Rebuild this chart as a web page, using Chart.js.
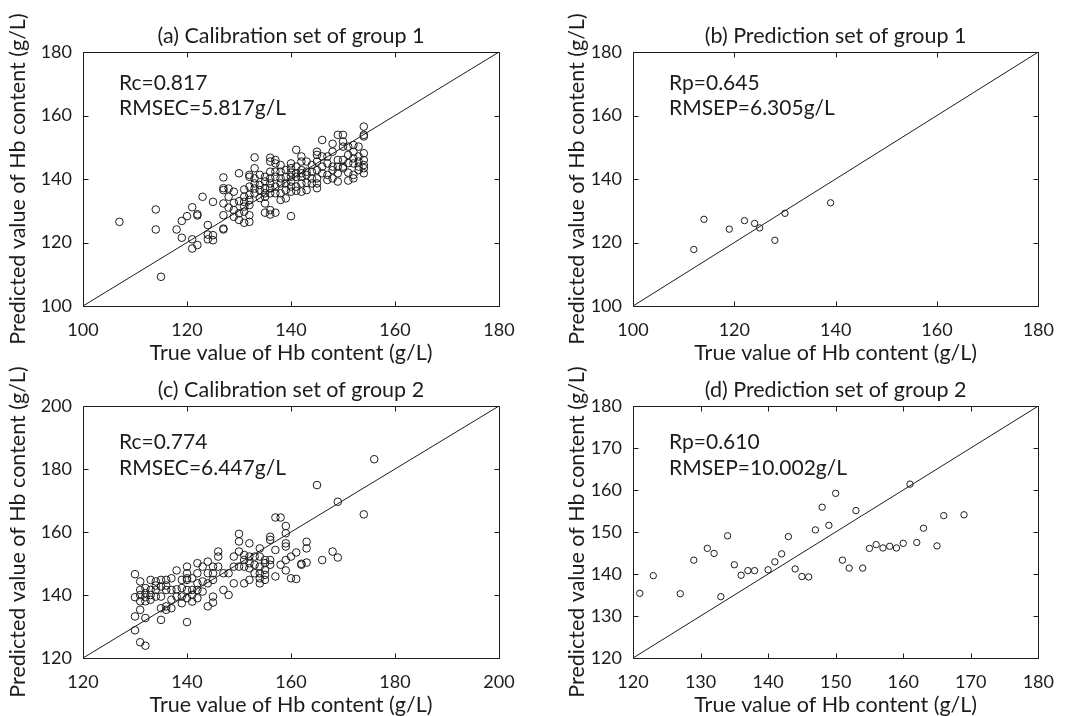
<!DOCTYPE html>
<html><head><meta charset="utf-8">
<script src="https://cdn.jsdelivr.net/npm/chart.js@4.4.1/dist/chart.umd.min.js"></script>
<style>
html,body{margin:0;padding:0;background:#fff;width:1067px;height:716px;overflow:hidden}
canvas{position:absolute}
</style></head><body>
<canvas id="ca" width="533" height="380" style="left:0;top:0"></canvas>
<canvas id="cb" width="534" height="380" style="left:533px;top:0"></canvas>
<canvas id="cc" width="533" height="358" style="left:0;top:358px"></canvas>
<canvas id="cd" width="534" height="358" style="left:533px;top:358px"></canvas>
<script>
// ---- data ----
const titles = ["(a) Calibration set of group 1","(b) Prediction set of group 1","(c) Calibration set of group 2","(d) Prediction set of group 2"];
const xTitle = "True value of Hb content (g/L)";
const yTitle = "Predicted value of Hb content (g/L)";
const notesA = ["Rc=0.817","RMSEC=5.817g/L"];
const notesB = ["Rp=0.645","RMSEP=6.305g/L"];
const notesC = ["Rc=0.774","RMSEC=6.447g/L"];
const notesD = ["Rp=0.610","RMSEP=10.002g/L"];
const limA = [100,180], limB = [100,180], limC = [120,200], limD = [120,180];
const stepA = 20, stepB = 20, stepC = 20, stepD = 10;

const calA = [
[107,126.5],[114,130.4],[114,124.1],[115,109.2],[118,124.1],[119,126.8],[119,121.5],[120,128.3],
[121,131.1],[121,121.0],[121,118.1],[122,128.9],[122,128.5],[122,119.2],[123,134.4],
[124,125.5],[124,122.5],[124,121.0],[125,132.8],[125,122.3],[125,120.7],
[127,140.5],[127,137.1],[127,136.5],[127,132.3],[127,128.6],[127,124.4],[127,124.1],
[128,134.4],[128,137.0],[128,131.0],[129,136.0],[129,132.5],[129,130.2],[129,128.1],
[130,141.8],[130,133.0],[130,129.2],[130,127.1],
[131,136.7],[131,134.4],[131,132.8],[131,131.3],[131,129.7],[131,126.2],
[132,141.3],[132,140.7],[132,137.6],[132,135.0],[132,133.4],[132,131.8],[132,128.6],[132,126.5],
[133,146.8],[133,143.4],[133,140.2],[133,138.6],[133,137.0],[133,135.5],
[134,141.3],[134,138.1],[134,136.5],[134,134.0],
[135,140.7],[135,139.2],[135,137.1],[135,135.5],[135,134.4],[135,132.3],[135,129.4],
[136,146.7],[136,145.5],[136,142.3],[136,140.2],[136,138.6],[136,137.1],[136,135.5],[136,130.2],[136,128.8],
[137,146.0],[137,144.9],[137,142.3],[137,140.7],[137,137.6],[137,135.5],[137,129.4],
[138,144.4],[138,142.3],[138,140.2],[138,138.6],[138,135.5],[138,133.4],
[139,142.8],[139,140.7],[139,138.6],[139,136.5],[139,133.9],
[140,144.9],[140,143.4],[140,142.0],[140,140.7],[140,139.2],[140,137.6],[140,136.0],[140,128.3],
[141,149.2],[141,143.9],[141,141.8],[141,140.7],[141,137.6],[141,136.3],
[142,147.1],[142,145.5],[142,142.8],[142,141.8],[142,140.7],[142,138.6],[142,136.0],
[143,145.5],[143,142.3],[143,141.3],[143,138.8],[143,136.5],
[144,144.4],[144,142.3],[144,140.2],[144,138.6],
[145,148.6],[145,147.6],[145,145.5],[145,142.8],[145,140.2],[145,138.6],[145,137.1],
[146,152.3],[146,147.1],[146,143.9],[146,141.8],
[147,147.1],[147,144.9],[147,141.3],[147,139.7],
[148,151.1],[148,148.6],[148,143.9],[148,142.8],[148,140.2],
[149,153.9],[149,146.0],[149,143.9],[149,141.8],[149,139.2],
[150,153.9],[150,151.8],[150,150.2],[150,146.0],[150,143.9],[150,143.4],
[151,150.2],[151,147.6],[151,145.0],[151,142.0],[151,139.5],
[152,150.7],[152,148.6],[152,146.5],[152,144.9],[152,141.3],[152,140.2],
[153,150.2],[153,147.1],[153,145.5],[153,143.9],[153,142.8],
[154,156.5],[154,153.9],[154,153.4],[154,148.1],[154,146.0],[154,144.4],[154,143.4],[154,141.8]
];
const preB = [[112,117.8],[114,127.3],[119,124.2],[122,126.9],[124,126.0],[125,124.6],[128,120.7],[130,129.2],[139,132.5]];
const calC = [
[130,146.6],[130,139.3],[130,133.2],[130,128.8],
[131,144.3],[131,141.6],[131,140.0],[131,135.3],[131,125.0],[131,138.0],
[132,142.2],[132,140.6],[132,139.3],[132,132.7],[132,123.9],[132,138.0],
[133,144.8],[133,141.6],[133,138.5],[133,140.0],
[134,144.3],[134,141.6],[134,139.5],[134,143.0],
[135,144.8],[135,142.7],[135,139.5],[135,135.8],[135,132.1],
[136,144.8],[136,141.6],[136,136.4],[136,135.3],[136,143.0],
[137,145.3],[137,141.6],[137,138.5],[137,135.8],
[138,147.8],[138,141.8],[138,139.5],
[139,144.8],[139,142.2],[139,139.5],[139,137.4],
[140,149.0],[140,146.9],[140,145.3],[140,144.8],[140,141.6],[140,139.0],[140,131.4],
[141,145.3],[141,141.6],[141,140.0],[141,137.9],
[142,150.1],[142,146.9],[142,143.7],[142,141.6],[142,139.0],
[143,149.0],[143,144.3],[143,141.1],
[144,150.6],[144,146.9],[144,143.7],[144,136.4],
[145,149.0],[145,146.9],[145,144.8],[145,139.5],[145,137.6],
[146,153.8],[146,152.2],[146,149.0],
[147,146.9],[147,141.6],[148,146.9],[148,140.0],
[149,152.2],[149,149.0],[149,143.7],
[150,159.4],[150,157.0],[150,153.8],[150,149.0],
[151,152.7],[151,151.1],[151,149.0],[151,143.7],
[152,156.4],[152,152.2],[152,150.1],[152,148.5],[152,144.8],
[153,152.2],[153,149.6],[153,146.9],
[154,154.8],[154,152.2],[154,149.0],[154,146.9],[154,145.3],[154,143.7],
[155,151.1],[155,150.1],[155,148.0],[155,146.4],[155,144.8],
[156,158.5],[156,157.5],[156,151.1],[156,149.6],
[157,164.6],[157,154.3],[157,145.9],[158,164.6],[158,149.6],
[159,161.9],[159,159.6],[159,156.4],[159,155.4],[159,151.1],[159,147.8],
[160,152.2],[160,145.3],[161,153.5],[161,145.1],[162,149.6],[162,149.9],
[163,156.9],[163,154.8],[163,150.3],
[165,174.9],[166,151.1],[168,153.8],[169,169.6],[169,151.9],[174,165.6],[176,183.1]
];
const preD = [
[121,135.4],[123,139.6],[127,135.3],[129,143.3],[131,146.1],[132,144.9],[133,134.6],[134,149.1],
[135,142.2],[136,139.7],[137,140.8],[138,140.8],[140,141.0],[141,142.9],[142,144.8],[143,148.9],
[144,141.2],[145,139.4],[146,139.3],[147,150.5],[148,155.9],[149,151.6],[150,159.2],[151,143.3],
[152,141.4],[153,155.1],[154,141.4],[155,146.1],[156,147.0],[157,146.2],[158,146.6],[159,146.2],
[160,147.3],[161,161.4],[162,147.5],[163,150.9],[165,146.7],[166,153.9],[169,154.1]
];

// ---- drawing ----
const INK = '#1c1c1c';
const FONT = 'Lato';
const decor = {
  id: 'decor',
  afterDraw(chart, args, o) {
    const ctx = chart.ctx, a = chart.chartArea, xs = chart.scales.x, ys = chart.scales.y;
    ctx.save();
    ctx.strokeStyle = INK; ctx.lineWidth = 1;
    const L = Math.round(a.left) + 0.5, R = Math.round(a.right) + 0.5, T = Math.round(a.top) + 0.5, B = Math.round(a.bottom) + 0.5;
    ctx.beginPath(); ctx.rect(L, T, R - L, B - T); ctx.stroke();
    const tl = 5;
    ctx.beginPath();
    xs.ticks.forEach(t => { const p = Math.round(xs.getPixelForValue(t.value)) + 0.5; ctx.moveTo(p, B); ctx.lineTo(p, B - tl); ctx.moveTo(p, T); ctx.lineTo(p, T + tl); });
    ys.ticks.forEach(t => { const p = Math.round(ys.getPixelForValue(t.value)) + 0.5; ctx.moveTo(L, p); ctx.lineTo(L + tl, p); ctx.moveTo(R, p); ctx.lineTo(R - tl, p); });
    ctx.stroke();
    ctx.fillStyle = INK; ctx.textBaseline = 'middle'; ctx.textAlign = 'center';
    ctx.font = o.titleSize + 'px ' + FONT;
    ctx.fillText(o.title, (a.left + a.right) / 2, a.top - 16);
    ctx.font = o.axisSize + 'px ' + FONT;
    ctx.fillText(xTitle, (a.left + a.right) / 2, a.bottom + 47);
    ctx.save(); ctx.translate(o.yTitleX, (a.top + a.bottom) / 2); ctx.rotate(-Math.PI / 2);
    ctx.fillText(yTitle, 0, 0); ctx.restore();
    ctx.textAlign = 'left';
    ctx.font = o.noteSize + 'px ' + FONT;
    o.notes.forEach((s, i) => ctx.fillText(s, a.left + o.noteDx, a.top + o.noteDy[i]));
    ctx.restore();
  }
};

function makeChart(id, pts, lim, xStep, yStep, cfg) {
  const tickFont = { family: FONT, size: 18 };
  new Chart(document.getElementById(id), {
    type: 'scatter',
    data: { datasets: [
      { data: pts.map(p => ({ x: p[0], y: p[1] })), pointStyle: 'circle', pointRadius: cfg.r, pointHoverRadius: cfg.r,
        backgroundColor: 'rgba(0,0,0,0)', borderColor: INK, borderWidth: 1 },
      { type: 'line', data: [{ x: lim[0], y: lim[0] }, { x: lim[1], y: lim[1] }], borderColor: INK, borderWidth: 1,
        pointRadius: 0, fill: false, tension: 0 }
    ] },
    options: {
      responsive: false, animation: false, devicePixelRatio: 1,
      layout: { padding: { left: 0, top: cfg.top, right: cfg.right, bottom: 0 } },
      plugins: { legend: { display: false }, tooltip: { enabled: false },
        decor: { title: cfg.title, notes: cfg.notes, noteDx: 36, noteDy: cfg.noteDy, yTitleX: cfg.yTitleX,
                 titleSize: 21.5, axisSize: 21.5, noteSize: 21 } },
      scales: {
        x: { type: 'linear', min: lim[0], max: lim[1],
             ticks: { stepSize: xStep, color: INK, font: tickFont, padding: 13, maxRotation: 0 },
             grid: { display: false, drawTicks: false }, border: { display: false },
             afterFit: s => { s.height = cfg.xh; } },
        y: { type: 'linear', min: lim[0], max: lim[1],
             ticks: { stepSize: yStep, color: INK, font: tickFont, padding: 11 },
             grid: { display: false, drawTicks: false }, border: { display: false },
             afterFit: s => { s.width = cfg.yw; } }
      }
    },
    plugins: [decor]
  });
}

makeChart('ca', calA, limA, stepA, stepA, { r: 3.8, top: 52, right: 34, xh: 74, yw: 83, yTitleX: 18, title: titles[0], notes: notesA, noteDy: [31, 56] });
makeChart('cb', preB, limB, stepB, stepB, { r: 3.2, top: 52, right: 17, xh: 74, yw: 100, yTitleX: 44, title: titles[1], notes: notesB, noteDy: [31, 56] });
makeChart('cc', calC, limC, stepC, stepC, { r: 3.8, top: 48, right: 34, xh: 58, yw: 83, yTitleX: 18, title: titles[2], notes: notesC, noteDy: [36, 62] });
makeChart('cd', preD, limD, stepD, stepD, { r: 3.2, top: 48, right: 17, xh: 58, yw: 100, yTitleX: 44, title: titles[3], notes: notesD, noteDy: [36, 62] });
</script>
</body></html>
